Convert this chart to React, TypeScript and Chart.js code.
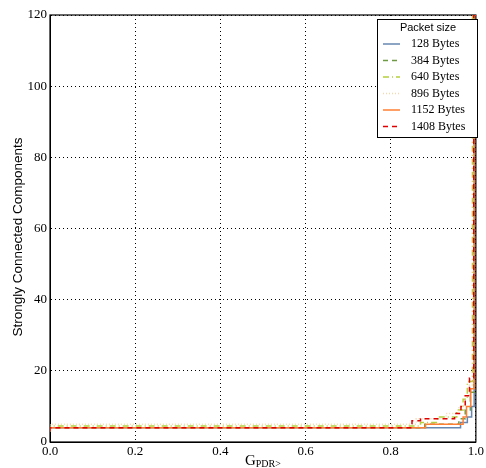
import React, { useEffect, useRef } from "react";
import { Chart, registerables } from "chart.js";

Chart.register(...registerables);

const seriesLabels = ["128 Bytes", "384 Bytes", "640 Bytes", "896 Bytes", "1152 Bytes", "1408 Bytes"];

const x128 = [0, 0.964, 0.98, 0.99, 0.996, 1.0];
const y128 = [3, 4, 5.5, 7, 10, 120];
const x384 = [0, 0.88, 0.96, 0.975, 0.987, 0.996, 1.0];
const y384 = [3, 4, 5, 6.5, 9, 14, 120];
const x640 = [0, 0.87, 0.91, 0.955, 0.97, 0.98, 0.992, 1.0];
const y640 = [3, 4.5, 5.5, 7, 9, 12, 17, 120];
const x896 = [0, 0.86, 0.93, 0.96, 0.975, 0.985, 0.995, 1.0];
const y896 = [3, 5, 6.5, 8, 10, 13, 16, 120];
const x1152 = [0, 0.882, 0.97, 0.978, 0.988, 0.996, 1.0];
const y1152 = [3, 4, 5, 7, 10, 15, 120];
const x1408 = [0, 0.85, 0.87, 0.95, 0.965, 0.975, 0.985, 0.995, 1.0];
const y1408 = [3, 4, 6, 6.5, 8, 10, 13, 18, 120];

const xTicks = [0, 0.2, 0.4, 0.6, 0.8, 1.0];
const yTicks = [0, 20, 40, 60, 80, 100, 120];

const colors = ["#6787b0", "#6f9a45", "#b5cf3e", "#f6d8ad", "#ff7f33", "#e00000"];
const dashes = [[], [5, 4], [6, 3, 1, 3], [1, 2], [], [5, 4]];

const toPts = (xs: number[], ys: number[]) => xs.map((x, i) => ({ x, y: ys[i] }));

const allX = [x128, x384, x640, x896, x1152, x1408];
const allY = [y128, y384, y640, y896, y1152, y1408];

const boxPlugin = {
  id: "boxPlugin",
  beforeDatasetsDraw(chart: any) {
    const { ctx, chartArea: a } = chart;
    ctx.save();
    ctx.strokeStyle = "#000";
    ctx.lineWidth = 1.2;
    ctx.strokeRect(a.left, a.top, a.right - a.left, a.bottom - a.top);
    ctx.restore();
  },
  afterDraw(chart: any) {
    const { ctx, chartArea: a } = chart;
    ctx.save();
    // y title
    ctx.save();
    ctx.translate(18, 237);
    ctx.rotate(-Math.PI / 2);
    ctx.fillStyle = "#000";
    ctx.font = "13.5px 'Liberation Sans'";
    ctx.textAlign = "center";
    ctx.textBaseline = "middle";
    ctx.fillText("Strongly Connected Components", 0, 0);
    ctx.restore();
    // x title: G with smaller PDR>
    const cx = (a.left + a.right) / 2;
    ctx.fillStyle = "#000";
    ctx.textBaseline = "alphabetic";
    ctx.font = "15px 'Liberation Serif'";
    const gW = ctx.measureText("G").width;
    ctx.font = "10px 'Liberation Serif'";
    const sW = ctx.measureText("PDR>").width;
    const start = cx - (gW + sW) / 2;
    ctx.font = "15px 'Liberation Serif'";
    ctx.textAlign = "left";
    ctx.fillText("G", start, 465);
    ctx.font = "10px 'Liberation Serif'";
    ctx.fillText("PDR>", start + gW, 467);

    // legend
    const lx = 377, ly = 19, lw = 100, lh = 118;
    ctx.fillStyle = "#fff";
    ctx.fillRect(lx, ly, lw, lh);
    ctx.strokeStyle = "#000";
    ctx.lineWidth = 1;
    ctx.strokeRect(lx + 0.5, ly + 0.5, lw, lh);
    ctx.fillStyle = "#000";
    ctx.font = "11px 'Liberation Sans'";
    ctx.textAlign = "center";
    ctx.textBaseline = "middle";
    ctx.fillText("Packet size", lx + lw / 2 + 1, 28);
    chart.data.datasets.forEach((ds: any, i: number) => {
      const y = 44 + i * 16.5;
      ctx.save();
      ctx.strokeStyle = ds.borderColor;
      ctx.lineWidth = ds.borderWidth;
      ctx.setLineDash(ds.borderDash || []);
      ctx.beginPath();
      ctx.moveTo(383, y);
      ctx.lineTo(400, y);
      ctx.stroke();
      ctx.restore();
      ctx.fillStyle = "#000";
      ctx.font = "12px 'Liberation Serif'";
      ctx.textAlign = "left";
      ctx.fillText(ds.label, 411, y);
    });
    ctx.restore();
  },
};

export default function App() {
  const ref = useRef<HTMLCanvasElement>(null);
  useEffect(() => {
    document.body.style.margin = "0";
    const chart = new Chart(ref.current!, {
      type: "line",
      data: {
        datasets: seriesLabels.map((label, i) => ({
          label,
          data: toPts(allX[i], allY[i]),
          borderColor: colors[i],
          backgroundColor: colors[i],
          borderWidth: 1.5,
          borderDash: dashes[i],
          stepped: "after" as const,
          pointRadius: 0,
          fill: false,
          order: 5 - i,
        })),
      },
      options: {
        animation: false,
        responsive: false,
        layout: { padding: { top: 15, right: 9, left: 0, bottom: 0 } },
        plugins: { legend: { display: false }, tooltip: { enabled: false } },
        scales: {
          x: {
            type: "linear",
            min: 0,
            max: 1,
            afterBuildTicks: (s: any) => { s.ticks = xTicks.map((v) => ({ value: v })); },
            afterFit: (s: any) => { s.height = 26; },
            ticks: {
              callback: (v: any) => Number(v).toFixed(1),
              color: "#000",
              font: { family: "'Liberation Serif'", size: 13 },
              padding: 2,
              maxRotation: 0,
            },
            grid: { color: "#000", lineWidth: 1, drawTicks: false },
            border: { display: true, color: "#000", dash: [1, 3] },
          },
          y: {
            type: "linear",
            min: 0,
            max: 120,
            afterBuildTicks: (s: any) => { s.ticks = yTicks.map((v) => ({ value: v })); },
            afterFit: (s: any) => { s.width = 50; },
            ticks: {
              color: "#000",
              font: { family: "'Liberation Serif'", size: 13 },
              padding: 3,
            },
            grid: { color: "#000", lineWidth: 1, drawTicks: false },
            border: { display: true, color: "#000", dash: [1, 3] },
          },
        },
      },
      plugins: [boxPlugin],
    });
    return () => chart.destroy();
  }, []);
  return <canvas ref={ref} width={486} height={468} style={{ display: "block" }} />;
}
